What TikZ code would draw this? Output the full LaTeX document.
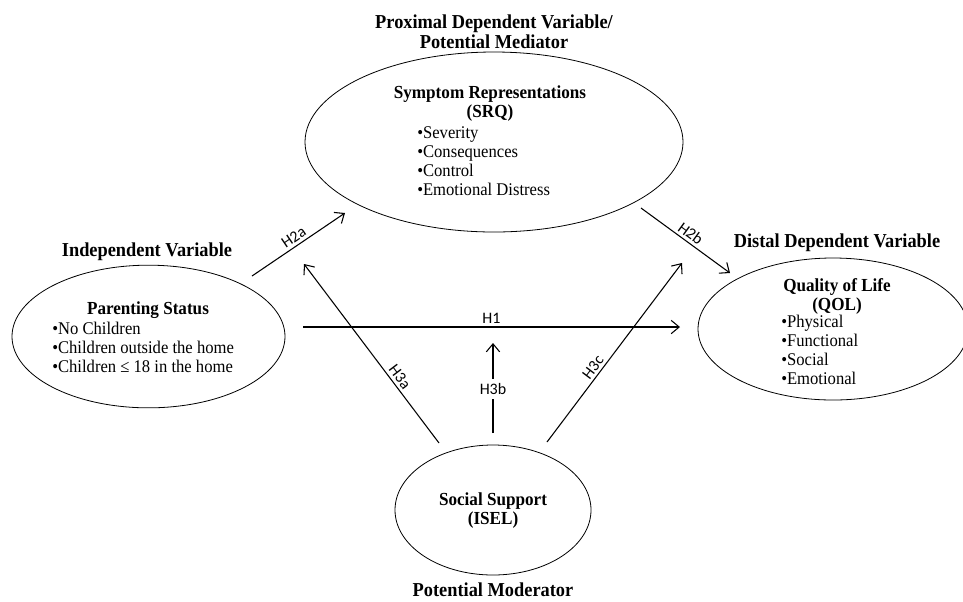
\documentclass[tikz,border=0pt]{standalone}
\usepackage{fontspec}
\setmainfont{Liberation Serif}[FakeStretch=0.93]
\newfontfamily\labfont{Carlito}
\usetikzlibrary{shapes.geometric, arrows.meta}
\begin{document}
\begin{tikzpicture}[x=0.75pt,y=-0.75pt,
 oval/.style={draw, ellipse, line width=0.6pt, inner sep=0pt},
 arr/.style={-{Straight Barb[length=6pt,width=10pt]}, line width=0.8pt},
 heading/.style={font=\fontsize{14.8}{15}\selectfont\bfseries, align=center, inner sep=0pt},
 vtitle/.style={font=\fontsize{13.8}{14.25}\selectfont\bfseries, align=center, inner sep=0pt},
 items/.style={font=\fontsize{13.4}{14.25}\selectfont, align=left, inner sep=0pt, anchor=west},
 hyp/.style={font=\labfont\fontsize{12}{14}\selectfont, inner sep=2pt}]
\useasboundingbox (0,0) rectangle (963,601);

% ellipses
\node[oval, minimum width=283.5pt, minimum height=135pt] (srq) at (494,142) {};
\node[oval, minimum width=204.75pt, minimum height=107pt] (ps) at (148.5,336.5) {};
\node[oval, minimum width=202.5pt, minimum height=106.5pt] (qol) at (833,329) {};
\node[oval, minimum width=147pt, minimum height=97.5pt] (ss) at (493,510) {};

% headings
\node[heading] (hprox) at (494,32) {Proximal Dependent Variable/\\Potential Mediator};
\node[heading] (hind) at (147,252) {Independent Variable};
\node[heading] (hdist) at (837,243) {Distal Dependent Variable};
\node[heading] (hmod) at (493,590) {Potential Moderator};

% contents
\node[vtitle] (tsrq) at (490,104) {Symptom Representations\\(SRQ)};
\node[items] (isrq) at (417,161.5) {•Severity\\•Consequences\\•Control\\•Emotional Distress};

\node[vtitle] (tps) at (148,310) {Parenting Status};
\node[items] (ips) at (52,347) {•No Children\\•Children outside the home\\•Children ≤ 18 in the home};

\node[vtitle] (tqol) at (837,296) {Quality of Life\\(QOL)};
\node[items] (iqol) at (781,349.5) {•Physical\\•Functional\\•Social\\•Emotional};

\node[vtitle] (tss) at (493,511) {Social Support\\(ISEL)};

% arrow end points
\coordinate (h2as) at (252,276); \coordinate (h2ae) at (345,213);
\coordinate (h2bs) at (641,208); \coordinate (h2be) at (730,273);
\coordinate (h1s) at (303,327);  \coordinate (h1e) at (680,327);
\coordinate (h3as) at (439,443); \coordinate (h3ae) at (304,264);
\coordinate (h3bs) at (493,433); \coordinate (h3be) at (493,343);
\coordinate (h3cs) at (547,442); \coordinate (h3ce) at (682,263);

\draw[arr] (h2as) -- node[hyp, midway, above, sloped] {H2a} (h2ae);
\draw[arr] (h2bs) -- node[hyp, midway, above, sloped] {H2b} (h2be);
\draw[arr] (h1s) -- node[hyp, midway, above] {H1} (h1e);
\draw[arr] (h3as) -- node[hyp, pos=0.34, above, sloped] {H3a} (h3ae);
\draw[arr] (h3bs) -- node[hyp, pos=0.49, fill=white, inner sep=3pt] {H3b} (h3be);
\draw[arr] (h3cs) -- node[hyp, pos=0.39, above, sloped] {H3c} (h3ce);
\end{tikzpicture}
\end{document}
